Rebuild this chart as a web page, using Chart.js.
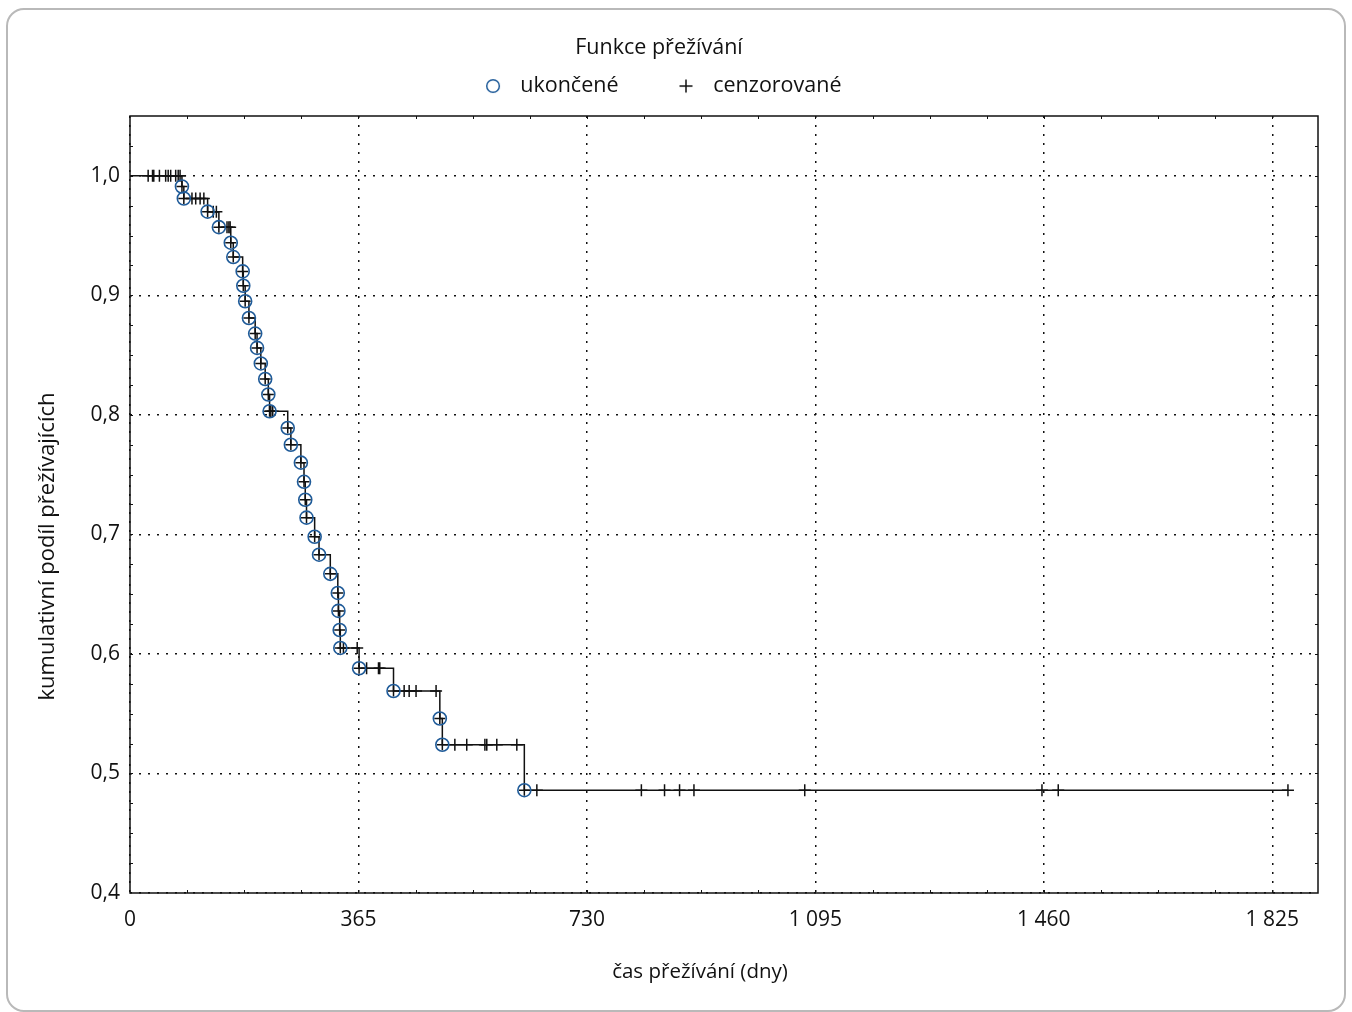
<!DOCTYPE html>
<html lang="cs">
<head>
<meta charset="utf-8">
<title>Funkce přežívání</title>
<script src="https://cdn.jsdelivr.net/npm/chart.js@4.4.1/dist/chart.umd.min.js"></script>
<style>
  html, body { margin: 0; padding: 0; background: #fff; }
  #frame { position: absolute; left: 6px; top: 8px; width: 1336px; height: 1000px; border: 2px solid #b9b9b9; border-radius: 18px; }
  #survivalChart { position: absolute; left: 0; top: 0; }
</style>
</head>
<body>
<div id="frame"></div>
<canvas id="survivalChart" width="1352" height="1012"></canvas>
<script>
// Kaplan-Meier data (days, cumulative survival)
const eventDays = [83, 86, 124, 142, 161, 165, 180, 181, 184, 190, 200, 203, 209, 216, 221, 223,
    252, 257, 273, 278, 280, 282, 295, 302, 320, 332, 333, 335, 336, 366, 421, 495, 499, 630];
const eventSurvival = [0.991, 0.981, 0.970, 0.957, 0.944, 0.932, 0.920, 0.908, 0.895, 0.881, 0.868,
    0.856, 0.843, 0.830, 0.817, 0.803, 0.789, 0.775, 0.760, 0.744, 0.729, 0.714, 0.698, 0.683, 0.667,
    0.651, 0.636, 0.620, 0.605, 0.588, 0.569, 0.546, 0.524, 0.486];

const censorDays = [29, 36, 38, 47, 57, 61, 65, 73, 77, 80,
    99, 105, 112, 118,
    133, 138,
    155, 158, 160,
    225, 228,
    341, 363,
    378, 397, 399,
    438, 446, 457, 489,
    519, 538, 567, 570, 586, 618,
    650, 817, 854, 878, 901, 1078, 1457, 1483, 1850];
const censorSurvival = [1, 1, 1, 1, 1, 1, 1, 1, 1, 1,
    0.981, 0.981, 0.981, 0.981,
    0.970, 0.970,
    0.957, 0.957, 0.957,
    0.803, 0.803,
    0.605, 0.605,
    0.588, 0.588, 0.588,
    0.569, 0.569, 0.569, 0.569,
    0.524, 0.524, 0.524, 0.524, 0.524, 0.524,
    0.486, 0.486, 0.486, 0.486, 0.486, 0.486, 0.486, 0.486, 0.486];

const xTickValues = [0, 365, 730, 1095, 1460, 1825];
const xTickLabels = ['0', '365', '730', '1 095', '1 460', '1 825'];
const yTickValues = [0.4, 0.5, 0.6, 0.7, 0.8, 0.9, 1.0];
const yTickLabels = ['0,4', '0,5', '0,6', '0,7', '0,8', '0,9', '1,0'];

const xTitle = 'čas přežívání (dny)';
const yTitle = 'kumulativní podíl přežívajících';

const xMax = 1898;
const yMin = 0.4;
const yMax = 1.05;
const xMinorStep = 91.25;
const yMinorStep = 0.025;

const textColor = '#111';
const markerBlue = '#1f5b99';
const fontFamily = '"Open Sans", "Noto Sans", sans-serif';

const eventPoints = eventDays.map((d, i) => ({ x: d, y: eventSurvival[i] }));
const censorPoints = censorDays.map((d, i) => ({ x: d, y: censorSurvival[i] }));
const curvePoints = [{ x: 0, y: 1 }, ...eventPoints,
    { x: censorDays[censorDays.length - 1], y: eventSurvival[eventSurvival.length - 1] }];

function makeIcon(draw) {
    const c = document.createElement('canvas');
    c.width = 16;
    c.height = 16;
    draw(c.getContext('2d'));
    return c;
}

const circleIcon = makeIcon(ctx => {
    ctx.strokeStyle = markerBlue;
    ctx.lineWidth = 1.5;
    ctx.beginPath();
    ctx.arc(8, 8, 6.3, 0, Math.PI * 2);
    ctx.stroke();
});

const plusIcon = makeIcon(ctx => {
    ctx.strokeStyle = textColor;
    ctx.lineWidth = 1.5;
    ctx.beginPath();
    ctx.moveTo(8, 1.5); ctx.lineTo(8, 14.5);
    ctx.moveTo(1.5, 8); ctx.lineTo(14.5, 8);
    ctx.stroke();
});

// keeps the plot area top fixed under the legend
const legendHeight = {
    id: 'legendHeight',
    beforeInit(chart) {
        const fit = chart.legend.fit;
        chart.legend.fit = function () {
            fit.call(this);
            this.height = 116;
        };
    }
};

// closed frame round the plot plus small inward minor ticks
const plotFrame = {
    id: 'plotFrame',
    afterDatasetsDraw(chart) {
        const { ctx, chartArea: a, scales: { x, y } } = chart;
        ctx.save();
        ctx.strokeStyle = '#111';
        ctx.lineWidth = 1.5;
        ctx.strokeRect(a.left, a.top, a.right - a.left, a.bottom - a.top);
        ctx.lineWidth = 1;
        ctx.beginPath();
        for (let v = yMin + yMinorStep; v < yMax - 0.001; v += yMinorStep) {
            const py = Math.round(y.getPixelForValue(v)) + 0.5;
            ctx.moveTo(a.left, py); ctx.lineTo(a.left + 3, py);
            ctx.moveTo(a.right, py); ctx.lineTo(a.right - 3, py);
        }
        for (let d = xMinorStep; d < xMax; d += xMinorStep) {
            const px = Math.round(x.getPixelForValue(d)) + 0.5;
            ctx.moveTo(px, a.bottom); ctx.lineTo(px, a.bottom - 3);
            ctx.moveTo(px, a.top); ctx.lineTo(px, a.top + 3);
        }
        ctx.stroke();
        ctx.restore();
    }
};

// axis titles sit off-centre in the original, so they are placed by hand
const axisTitles = {
    id: 'axisTitles',
    afterDraw(chart) {
        const { ctx, chartArea: a } = chart;
        ctx.save();
        ctx.fillStyle = textColor;
        ctx.textAlign = 'center';
        ctx.textBaseline = 'middle';
        ctx.font = '20.5px ' + fontFamily;
        ctx.fillText(xTitle, (a.left + a.right) / 2 - 24, 972);
        ctx.font = '22px ' + fontFamily;
        ctx.translate(48, (a.top + a.bottom) / 2 + 42);
        ctx.rotate(-Math.PI / 2);
        ctx.fillText(yTitle, 0, 0);
        ctx.restore();
    }
};

const ctx = document.getElementById('survivalChart').getContext('2d');
new Chart(ctx, {
    type: 'scatter',
    data: {
        datasets: [{
            label: 'křivka',
            data: curvePoints,
            showLine: true,
            stepped: true,
            borderColor: '#111',
            borderWidth: 1.5,
            pointRadius: 0,
            order: 3
        }, {
            label: 'ukončené',
            data: eventPoints,
            pointStyle: 'circle',
            pointRadius: 6.5,
            borderColor: markerBlue,
            backgroundColor: 'rgba(0,0,0,0)',
            borderWidth: 1.6,
            order: 1
        }, {
            label: 'ukončené +',
            data: eventPoints,
            pointStyle: 'cross',
            pointRadius: 5.5,
            borderColor: '#111',
            borderWidth: 1.5,
            order: 2
        }, {
            label: 'cenzorované',
            data: censorPoints,
            pointStyle: 'cross',
            pointRadius: 6,
            borderColor: '#111',
            borderWidth: 1.5,
            order: 2
        }]
    },
    options: {
        responsive: false,
        animation: false,
        events: [],
        layout: { padding: { left: 0, right: 34, top: 0, bottom: 0 } },
        plugins: {
            tooltip: { enabled: false },
            legend: {
                position: 'top',
                title: {
                    display: true,
                    text: 'Funkce přežívání',
                    color: textColor,
                    font: { family: fontFamily, size: 21.5 },
                    padding: { top: 37, bottom: -38.5 }
                },
                labels: {
                    usePointStyle: true,
                    pointStyleWidth: 33,
                    boxHeight: 9,
                    padding: 51,
                    color: textColor,
                    font: { family: fontFamily, size: 21.5 },
                    generateLabels: () => [
                        { text: 'ukončené', pointStyle: circleIcon, datasetIndex: 1, lineWidth: 0, hidden: false, fontColor: textColor },
                        { text: 'cenzorované', pointStyle: plusIcon, datasetIndex: 3, lineWidth: 0, hidden: false, fontColor: textColor }
                    ]
                }
            }
        },
        scales: {
            x: {
                type: 'linear',
                min: 0,
                max: xMax,
                afterBuildTicks: scale => { scale.ticks = xTickValues.map(v => ({ value: v })); },
                afterFit: scale => { scale.height = 119; },
                ticks: {
                    padding: 14,
                    color: textColor,
                    font: { family: fontFamily, size: 21 },
                    maxRotation: 0,
                    callback: (v, i) => xTickLabels[i]
                },
                grid: { color: '#111', lineWidth: 1.5, drawTicks: false },
                border: { display: false, dash: [2, 7] }
            },
            y: {
                min: yMin,
                max: yMax,
                afterBuildTicks: scale => { scale.ticks = yTickValues.map(v => ({ value: v })); },
                afterFit: scale => { scale.width = 130; },
                ticks: {
                    padding: 10,
                    color: textColor,
                    font: { family: fontFamily, size: 21 },
                    callback: (v, i) => yTickLabels[i]
                },
                grid: { color: '#111', lineWidth: 1.5, drawTicks: false },
                border: { display: false, dash: [2, 7] }
            }
        }
    },
    plugins: [legendHeight, plotFrame, axisTitles]
});
</script>
</body>
</html>
